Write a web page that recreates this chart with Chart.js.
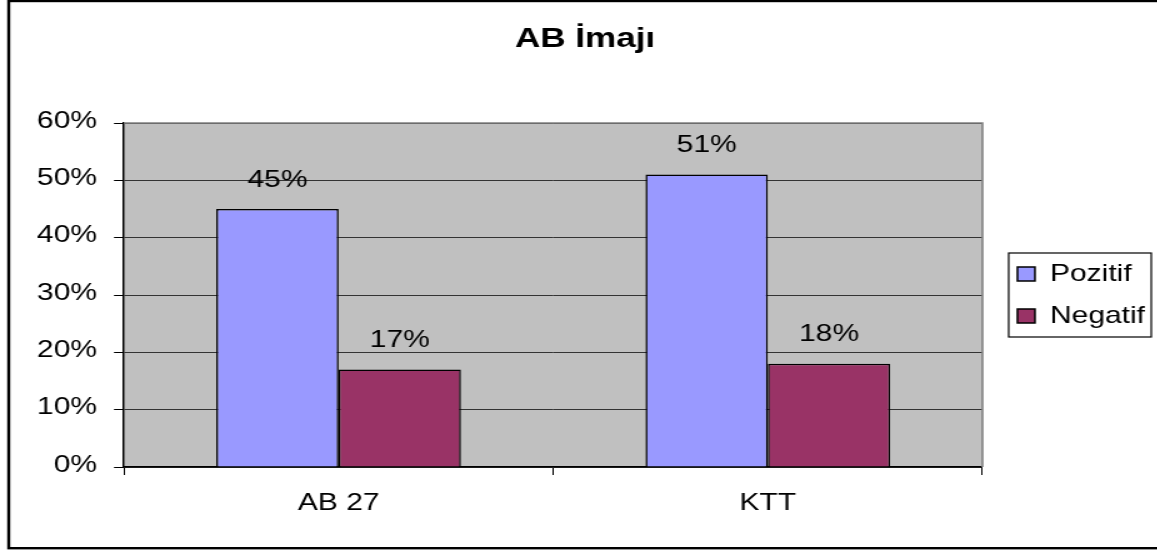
<!DOCTYPE html>
<html><head><meta charset="utf-8">
<script src="https://cdn.jsdelivr.net/npm/chart.js@4.4.1/dist/chart.umd.min.js"></script>
<style>
html,body{margin:0;padding:0;background:#fff;overflow:hidden;width:1157px;height:551px;}
#wrap{position:absolute;left:0;top:0;width:926px;height:551px;transform:scaleX(1.25);transform-origin:0 0;}
</style></head><body>
<div id="wrap"><canvas id="c"></canvas></div>
<script>
const chartTitle = 'AB İmajı';
const categories = ['AB 27', 'KTT'];
const seriesNames = ['Pozitif', 'Negatif'];
const pozitif = [45, 51];
const negatif = [17, 18];
const yMin = 0, yMax = 60, yStep = 10;

const FONT = "'Liberation Sans', Arial, sans-serif";
Chart.defaults.font.family = FONT;
Chart.defaults.color = '#000';

const decor = {
  id: 'decor',
  beforeDraw(chart) {
    const {ctx, chartArea: a} = chart;
    ctx.save();
    ctx.fillStyle = '#fff';
    ctx.fillRect(0, 0, chart.width, chart.height);
    ctx.fillStyle = '#C0C0C0';
    ctx.fillRect(a.left, a.top, a.right - a.left, a.bottom - a.top);
    ctx.strokeStyle = '#000';
    ctx.lineWidth = 2.4;
    ctx.strokeRect(7, 1, chart.width + 40, 547.2);
    ctx.restore();
  },
  afterDatasetsDraw(chart) {
    const {ctx, chartArea: a} = chart;
    ctx.save();
    // plot area top/right edge
    ctx.strokeStyle = '#808080';
    ctx.lineWidth = 1.6;
    ctx.beginPath();
    ctx.moveTo(a.left, a.top);
    ctx.lineTo(a.right, a.top);
    ctx.lineTo(a.right, a.bottom);
    ctx.stroke();
    // data labels
    ctx.fillStyle = '#000';
    ctx.font = '24px ' + FONT;
    ctx.textAlign = 'center';
    ctx.textBaseline = 'middle';
    chart.data.datasets.forEach((ds, i) => {
      const meta = chart.getDatasetMeta(i);
      meta.data.forEach((el, j) => {
        ctx.fillText(ds.data[j] + '%', el.x, el.y - 29);
      });
    });
    // legend frame
    const hb = chart.legend && chart.legend.legendHitBoxes;
    if (hb && hb.length) {
      const left = Math.min(...hb.map(h => h.left)) - 7;
      const right = Math.max(...hb.map(h => h.left + h.width)) + 5;
      const top = hb[0].top - 9;
      const last = hb[hb.length - 1];
      const bottom = last.top + last.height + 9;
      ctx.strokeStyle = '#000';
      ctx.lineWidth = 1.2;
      ctx.strokeRect(left, top, right - left, bottom - top);
    }
    ctx.restore();
  }
};

new Chart(document.getElementById('c'), {
  type: 'bar',
  data: {
    labels: categories,
    datasets: [
      { label: seriesNames[0], data: pozitif, backgroundColor: '#9999FF', borderColor: '#000', borderWidth: 1.5 },
      { label: seriesNames[1], data: negatif, backgroundColor: '#993366', borderColor: '#000', borderWidth: 1.5 }
    ]
  },
  options: {
    responsive: true,
    maintainAspectRatio: false,
    animation: false,
    layout: { padding: { left: 10, right: 0, top: 0, bottom: 0 } },
    datasets: { bar: { barPercentage: 1, categoryPercentage: 0.57 } },
    plugins: {
      title: {
        display: true,
        text: chartTitle,
        color: '#000',
        font: { size: 28, weight: 'bold', family: FONT, lineHeight: 1.2 },
        padding: { top: 22, bottom: 67.4 }
      },
      legend: {
        display: true,
        position: 'right',
        fullSize: false,
        labels: {
          color: '#000',
          font: { size: 24, family: FONT },
          boxWidth: 14,
          boxHeight: 14,
          padding: 18
        }
      },
      tooltip: { enabled: false }
    },
    scales: {
      x: {
        grid: { display: true, drawOnChartArea: false, drawTicks: true, tickLength: 8, color: '#000', tickColor: '#000', offset: true },
        border: { display: true, color: '#000', width: 1.5 },
        ticks: { font: { size: 24, family: FONT }, color: '#000', padding: 14 },
        afterFit(s) { s.height = 84; }
      },
      y: {
        min: yMin, max: yMax,
        grid: { color: '#333', lineWidth: 1, tickLength: 8, tickColor: '#000' },
        border: { display: true, color: '#000', width: 1.5 },
        ticks: { stepSize: yStep, font: { size: 24, family: FONT }, color: '#000', padding: 13.6, labelOffset: -2,
                 callback: v => v + '%' },
        afterFit(s) { s.width = 89.2; }
      },
      spacer: {
        type: 'linear',
        position: 'right',
        display: true,
        grid: { display: false },
        border: { display: false },
        ticks: { display: false },
        afterFit(s) { s.width = 10; }
      }
    }
  },
  plugins: [decor]
});
</script>
</body></html>
